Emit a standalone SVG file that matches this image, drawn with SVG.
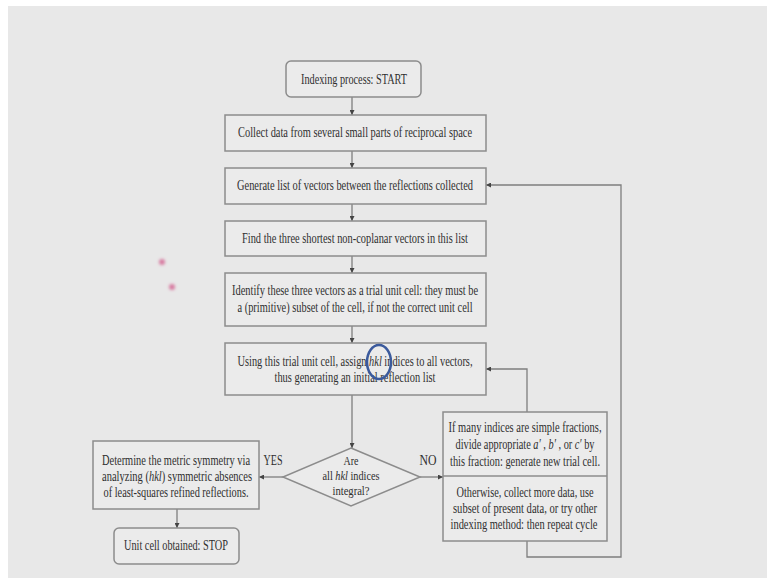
<svg xmlns="http://www.w3.org/2000/svg" width="767" height="578" viewBox="0 0 767 578">
<defs>
<style>
.bg{fill:#e8e8e8}
.box{fill:#ebebeb;stroke:#8c8c8c;stroke-width:1.5}
.t{font-family:"Liberation Serif","Times New Roman",serif;font-size:14px;fill:#2f2f2f;text-anchor:middle}
.s{font-size:13px}
.i{font-style:italic}
.c{fill:none;stroke:#7e7e7e;stroke-width:1.3}
</style>
<marker id="ah" viewBox="0 0 10 10" refX="10" refY="5" markerWidth="5" markerHeight="5" markerUnits="userSpaceOnUse" orient="auto">
<path d="M0,0 L10,5 L0,10 z" fill="#444"/>
</marker>
<filter id="blur" x="-1" y="-1" width="3" height="3"><feGaussianBlur stdDeviation="1.5"/></filter>
</defs>
<rect x="0" y="0" width="767" height="578" fill="#ffffff"/>
<rect class="bg" x="8" y="6" width="759" height="572"/>

<g id="connectors">
<line class="c" x1="352" y1="97" x2="352" y2="115" marker-end="url(#ah)"/>
<line class="c" x1="352" y1="151" x2="352" y2="168" marker-end="url(#ah)"/>
<line class="c" x1="352" y1="204" x2="352" y2="221" marker-end="url(#ah)"/>
<line class="c" x1="352" y1="256" x2="352" y2="273" marker-end="url(#ah)"/>
<line class="c" x1="352" y1="326" x2="352" y2="343" marker-end="url(#ah)"/>
<line class="c" x1="352" y1="395" x2="352" y2="448" marker-end="url(#ah)"/>
<line class="c" x1="283" y1="477" x2="259" y2="477" marker-end="url(#ah)"/>
<line class="c" x1="420" y1="477" x2="443" y2="477" marker-end="url(#ah)"/>
<polyline class="c" points="527,412 527,369 486,369" marker-end="url(#ah)"/>
<polyline class="c" points="527,541 527,557 621,557 621,185 486,185" marker-end="url(#ah)"/>
<line class="c" x1="177" y1="509" x2="177" y2="528" marker-end="url(#ah)"/>
<text class="t" transform="translate(273,465) scale(0.72,1)" textLength="26.4" lengthAdjust="spacingAndGlyphs">YES</text>
<text class="t" transform="translate(428,465) scale(0.72,1)" textLength="23.6" lengthAdjust="spacingAndGlyphs">NO</text>
</g>

<g id="start">
<rect class="box" x="286" y="61" width="135" height="36" rx="5"/>
<text class="t" transform="translate(354,84) scale(0.72,1)" textLength="147.2" lengthAdjust="spacingAndGlyphs">Indexing process: START</text>
</g>
<g id="collect">
<rect class="box" x="225" y="115" width="261" height="36"/>
<text class="t" transform="translate(355,137) scale(0.72,1)" textLength="325" lengthAdjust="spacingAndGlyphs">Collect data from several small parts of reciprocal space</text>
</g>
<g id="generate">
<rect class="box" x="225" y="168" width="261" height="36"/>
<text class="t" transform="translate(355,190) scale(0.72,1)" textLength="327.8" lengthAdjust="spacingAndGlyphs">Generate list of vectors between the reflections collected</text>
</g>
<g id="find">
<rect class="box" x="225" y="221" width="261" height="35"/>
<text class="t" transform="translate(355,243) scale(0.72,1)" textLength="313.9" lengthAdjust="spacingAndGlyphs">Find the three shortest non-coplanar vectors in this list</text>
</g>
<g id="identify">
<rect class="box" x="225" y="273" width="261" height="53"/>
<text class="t" transform="translate(355,295) scale(0.72,1)" textLength="341.7" lengthAdjust="spacingAndGlyphs">Identify these three vectors as a trial unit cell: they must be</text>
<text class="t" transform="translate(355,312) scale(0.72,1)" textLength="326.4" lengthAdjust="spacingAndGlyphs">a (primitive) subset of the cell, if not the correct unit cell</text>
</g>
<g id="using">
<rect class="box" x="225" y="343" width="261" height="52"/>
<text class="t" transform="translate(355,366) scale(0.72,1)" textLength="326.4" lengthAdjust="spacingAndGlyphs">Using this trial unit cell, assign <tspan class="i">hkl</tspan> indices to all vectors,</text>
<text class="t" transform="translate(355,382) scale(0.72,1)" textLength="223.6" lengthAdjust="spacingAndGlyphs">thus generating an initial reflection list</text>
</g>
<g id="decision">
<polygon class="box" points="351,448 420,477 351,506 283,477"/>
<text class="t s" transform="translate(351,465) scale(0.72,1)" textLength="20.8" lengthAdjust="spacingAndGlyphs">Are</text>
<text class="t s" transform="translate(351,480) scale(0.72,1)" textLength="79.2" lengthAdjust="spacingAndGlyphs">all <tspan class="i">hkl</tspan> indices</text>
<text class="t s" transform="translate(351,495) scale(0.72,1)" textLength="51.4" lengthAdjust="spacingAndGlyphs">integral?</text>
</g>
<g id="determine">
<rect class="box" x="93" y="441" width="166" height="68"/>
<text class="t" transform="translate(176,465) scale(0.72,1)" textLength="205.6" lengthAdjust="spacingAndGlyphs">Determine the metric symmetry via</text>
<text class="t" transform="translate(177,481) scale(0.72,1)" textLength="208.3" lengthAdjust="spacingAndGlyphs">analyzing (<tspan class="i">hkl</tspan>) symmetric absences</text>
<text class="t" transform="translate(176,497) scale(0.72,1)" textLength="201.4" lengthAdjust="spacingAndGlyphs">of least-squares refined reflections.</text>
</g>
<g id="retry">
<rect class="box" x="443" y="412" width="164" height="129"/>
<line x1="443" y1="476" x2="607" y2="476" stroke="#8c8c8c" stroke-width="1.5"/>
<text class="t" transform="translate(525,432) scale(0.72,1)" textLength="212.5" lengthAdjust="spacingAndGlyphs">If many indices are simple fractions,</text>
<text class="t" transform="translate(525,449) scale(0.72,1)" textLength="193.1" lengthAdjust="spacingAndGlyphs">divide appropriate <tspan class="i">a′</tspan> , <tspan class="i">b′</tspan> , or <tspan class="i">c′</tspan> by</text>
<text class="t" transform="translate(525,466) scale(0.72,1)" textLength="208.3" lengthAdjust="spacingAndGlyphs">this fraction: generate new trial cell.</text>
<text class="t" transform="translate(525,497) scale(0.72,1)" textLength="190.3" lengthAdjust="spacingAndGlyphs">Otherwise, collect more data, use</text>
<text class="t" transform="translate(525,513) scale(0.72,1)" textLength="200" lengthAdjust="spacingAndGlyphs">subset of present data, or try other</text>
<text class="t" transform="translate(524,529) scale(0.72,1)" textLength="204.2" lengthAdjust="spacingAndGlyphs">indexing method: then repeat cycle</text>
</g>
<g id="stop">
<rect class="box" x="114" y="528" width="125" height="36" rx="5"/>
<text class="t" transform="translate(176,550) scale(0.72,1)" textLength="144.4" lengthAdjust="spacingAndGlyphs">Unit cell obtained: STOP</text>
</g>

<ellipse cx="379" cy="362" rx="12" ry="17" fill="none" stroke="#3b5a9c" stroke-width="2.5"/>
<circle cx="162" cy="262" r="3" fill="#d77aa0" filter="url(#blur)"/>
<circle cx="172" cy="287" r="3" fill="#d77aa0" filter="url(#blur)"/>
</svg>
